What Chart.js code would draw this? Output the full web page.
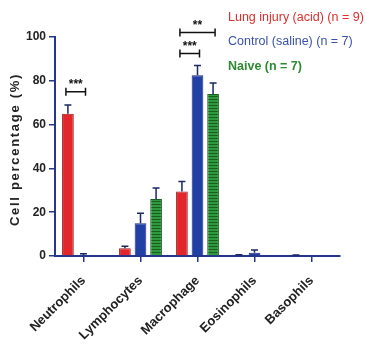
<!DOCTYPE html>
<html>
<head>
<meta charset="utf-8">
<script src="https://cdn.jsdelivr.net/npm/chart.js@4/dist/chart.umd.min.js"></script>
<style>
  html, body { margin: 0; padding: 0; background: #fff; }
  #wrap { width: 365px; height: 353px; }
</style>
</head>
<body>
<div id="wrap"><canvas id="grafico" width="365" height="353"></canvas></div>
<script>
// categorias e valores
const categorias = ["Neutrophils", "Lymphocytes", "Macrophage", "Eosinophils", "Basophils"];
const seriesNomes = ["Lung injury (acid) (n = 9)", "Control (saline) (n = 7)", "Naive (n = 7)"];
const lesaoValores = [65, 3.5, 29.5, 0.3, 0.3];
const lesaoErros   = [4, 1, 4.5, 0.3, 0.2];
const controleValores = [0.5, 15, 82.5, 1.5, 0];
const controleErros   = [0.5, 4.5, 4.5, 1.2, 0];
const naiveValores = [0, 26, 74, 0, 0];
const naiveErros   = [0, 5, 5, 0, 0];
const yTicks = [0, 20, 40, 60, 80, 100];
const tituloY = "Cell percentage (%)";
// significância: categoria, serie inicial, serie final, altura (valor), rotulo
const signif = [
  {cat: 0, de: 0, ate: 1, y: 75, txt: "***"},
  {cat: 2, de: 0, ate: 1, y: 92.5, txt: "***"},
  {cat: 2, de: 0, ate: 2, y: 102, txt: "**"}
];

const NAVY = "#26368c";
const RED = "#e3262b";
const BLUE = "#2140a6";
const GREEN = "#2f9a3d";
const FONTE = "Arial, 'Liberation Sans', sans-serif";

// padrão listrado do verde
function padraoVerde() {
  const c = document.createElement("canvas");
  c.width = 4; c.height = 3;
  const g = c.getContext("2d");
  g.fillStyle = GREEN;
  g.fillRect(0, 0, 4, 3);
  g.fillStyle = "#16601f";
  g.fillRect(0, 0, 4, 1);
  return g.createPattern(c, "repeat");
}

const erros = [lesaoErros, controleErros, naiveErros];

const pluginErros = {
  id: "erros",
  afterDatasetsDraw(chart) {
    const ctx = chart.ctx;
    const y = chart.scales.y;
    ctx.save();
    ctx.strokeStyle = "#1c2766";
    ctx.lineWidth = 1.5;
    chart.data.datasets.forEach((ds, i) => {
      const meta = chart.getDatasetMeta(i);
      meta.data.forEach((el, j) => {
        const e = erros[i][j];
        if (!e) return;
        const topo = y.getPixelForValue(ds.data[j] + e);
        ctx.beginPath();
        ctx.moveTo(el.x, el.y);
        ctx.lineTo(el.x, topo);
        ctx.moveTo(el.x - 3.5, topo);
        ctx.lineTo(el.x + 3.5, topo);
        ctx.stroke();
      });
    });
    ctx.restore();
  }
};

const pluginSignif = {
  id: "signif",
  afterDraw(chart) {
    const ctx = chart.ctx;
    const y = chart.scales.y;
    ctx.save();
    ctx.strokeStyle = "#111";
    ctx.fillStyle = "#111";
    ctx.lineWidth = 1.5;
    ctx.font = "bold 12px " + FONTE;
    ctx.textAlign = "center";
    ctx.textBaseline = "alphabetic";
    signif.forEach(s => {
      const x1 = chart.getDatasetMeta(s.de).data[s.cat].x - 2;
      const x2 = chart.getDatasetMeta(s.ate).data[s.cat].x + 2;
      const py = y.getPixelForValue(s.y);
      ctx.beginPath();
      ctx.moveTo(x1, py); ctx.lineTo(x2, py);
      ctx.moveTo(x1, py - 4); ctx.lineTo(x1, py + 4);
      ctx.moveTo(x2, py - 4); ctx.lineTo(x2, py + 4);
      ctx.stroke();
      ctx.fillText(s.txt, (x1 + x2) / 2, py - 3.5);
    });
    ctx.restore();
  }
};

// legenda só com texto colorido + titulo do eixo y
const pluginTextos = {
  id: "textos",
  afterDraw(chart) {
    const ctx = chart.ctx;
    const cores = ["#dd2f2c", "#3a52aa", "#2f8a34"];
    const pesos = ["normal", "normal", "bold"];
    ctx.save();
    ctx.textAlign = "left";
    ctx.textBaseline = "middle";
    seriesNomes.forEach((nome, i) => {
      ctx.font = pesos[i] + " 12.5px " + FONTE;
      ctx.fillStyle = cores[i];
      ctx.fillText(nome, 228, 17.5 + i * 24.5);
    });
    const area = chart.chartArea;
    ctx.translate(15, (area.top + area.bottom) / 2);
    ctx.rotate(-Math.PI / 2);
    ctx.textAlign = "center";
    ctx.font = "bold 13px " + FONTE;
    ctx.letterSpacing = "1.7px";
    ctx.fillStyle = "#222";
    ctx.fillText(tituloY, -3, 0);
    ctx.restore();
  }
};

const ctx = document.getElementById("grafico").getContext("2d");
new Chart(ctx, {
  type: "bar",
  data: {
    labels: categorias,
    datasets: [
      { label: seriesNomes[0], data: lesaoValores, backgroundColor: RED, borderColor: "#9a1a1c", borderWidth: 1 },
      { label: seriesNomes[1], data: controleValores, backgroundColor: BLUE, borderColor: "#1a2a7a", borderWidth: 1 },
      { label: seriesNomes[2], data: naiveValores, backgroundColor: padraoVerde(), borderColor: "#1b5e22", borderWidth: 1 }
    ]
  },
  options: {
    responsive: false,
    animation: false,
    layout: { padding: { top: 37, right: 25, left: 0, bottom: 0 } },
    datasets: { bar: { categoryPercentage: 0.82, barPercentage: 0.75 } },
    plugins: { legend: { display: false }, tooltip: { enabled: false } },
    scales: {
      x: {
        afterFit(scale) { scale.height = 97; },
        border: { color: NAVY, width: 2 },
        grid: { display: true, drawOnChartArea: false, offset: false, color: NAVY, lineWidth: 1.5, tickLength: 6 },
        ticks: {
          color: "#222", minRotation: 45, maxRotation: 45, padding: 11,
          font: { family: FONTE, size: 13, weight: "bold" }
        }
      },
      y: {
        min: 0, max: 100,
        afterFit(scale) { scale.width = 55; },
        afterBuildTicks(scale) { scale.ticks = yTicks.map(v => ({value: v})); },
        border: { color: NAVY, width: 2 },
        grid: { display: true, drawOnChartArea: false, color: NAVY, lineWidth: 1.5, tickLength: 6 },
        ticks: {
          color: "#222", padding: 3,
          font: { family: FONTE, size: 12, weight: "bold" }
        }
      }
    }
  },
  plugins: [pluginErros, pluginSignif, pluginTextos]
});
</script>
</body>
</html>
